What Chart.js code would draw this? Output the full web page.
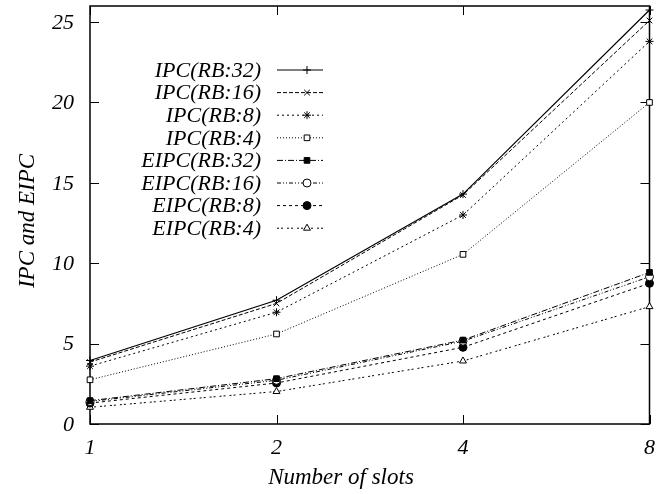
<!DOCTYPE html>
<html>
<head>
<meta charset="utf-8">
<script src="https://cdn.jsdelivr.net/npm/chart.js@4.4.1/dist/chart.umd.min.js"></script>
<style>
	html, body { margin: 0; padding: 0; background: #fff; }
	#wrap { width: 666px; height: 494px; }
</style>
</head>
<body>
<div id="wrap"><canvas id="c" width="666" height="494"></canvas></div>
<script>
// number of slots (log2 spaced, drawn as evenly spaced categories)
const slots = ["1", "2", "4", "8"];
const yTicks = [0, 5, 10, 15, 20, 25];

const ipc_rb32 = [3.95, 7.7, 14.3, 25.75];
const ipc_rb16 = [3.85, 7.5, 14.25, 25.1];
const ipc_rb8 = [3.6, 6.95, 13.0, 23.8];
const ipc_rb4 = [2.75, 5.6, 10.55, 20.0];
const eipc_rb32 = [1.45, 2.82, 5.22, 9.43];
const eipc_rb16 = [1.4, 2.72, 5.15, 9.16];
const eipc_rb8 = [1.3, 2.55, 4.77, 8.75];
const eipc_rb4 = [1.04, 2.02, 3.92, 7.3];

const FONT = "'Liberation Serif', 'DejaVu Serif', serif";
const LABEL_FONT = "italic 22px " + FONT;
const TITLE_FONT = "italic 23px " + FONT;

function series(label, data, dash, pointStyle, filled, width) {
	return {
		label: label,
		data: data,
		borderColor: "#000",
		borderWidth: width || 1,
		borderDash: dash,
		pointStyle: pointStyle,
		pointRadius: 4,
		pointBorderWidth: 1,
		pointBorderColor: "#000",
		pointBackgroundColor: filled ? "#000" : "#fff",
		backgroundColor: filled ? "#000" : "#fff",
		fill: false,
		tension: 0,
	};
}

// legend: text right-aligned, line sample with marker to its right (gnuplot style)
const keyPlugin = {
	id: "key",
	afterDatasetsDraw(chart) {
		const ctx = chart.ctx;
		const textRight = 261, x0 = 277, x1 = 323, top = 70, step = 22.6;
		ctx.save();
		ctx.font = LABEL_FONT;
		ctx.textAlign = "right";
		ctx.textBaseline = "middle";
		chart.data.datasets.forEach((ds, i) => {
			const y = top + i * step;
			ctx.fillStyle = "#000";
			ctx.fillText(ds.label, textRight, y + 1);
			ctx.strokeStyle = "#000";
			ctx.lineWidth = ds.borderWidth;
			ctx.setLineDash(ds.borderDash || []);
			ctx.beginPath();
			ctx.moveTo(x0, y);
			ctx.lineTo(x1, y);
			ctx.stroke();
			ctx.setLineDash([]);
			ctx.lineWidth = 1;
			ctx.fillStyle = ds.pointBackgroundColor;
			Chart.helpers.drawPoint(ctx, {
				pointStyle: ds.pointStyle,
				radius: 4,
				borderWidth: 1,
				rotation: 0,
			}, 307, y);
		});
		ctx.restore();
	},
};

// frame with inward ticks on all four sides, y tick labels and axis titles
const framePlugin = {
	id: "frame",
	beforeDatasetsDraw(chart) {
		const ctx = chart.ctx;
		const a = chart.chartArea;
		const xs = chart.scales.x, ys = chart.scales.y;
		ctx.save();
		ctx.strokeStyle = "#000";
		ctx.lineWidth = 1.5;
		ctx.strokeRect(a.left, a.top, a.right - a.left, a.bottom - a.top);
		ctx.lineWidth = 1;
		ctx.beginPath();
		yTicks.forEach((v) => {
			const y = Math.round(ys.getPixelForValue(v)) + 0.5;
			ctx.moveTo(a.left, y); ctx.lineTo(a.left + 9, y);
			ctx.moveTo(a.right, y); ctx.lineTo(a.right - 9, y);
		});
		slots.forEach((s, i) => {
			const x = Math.round(xs.getPixelForValue(i)) + 0.5;
			ctx.moveTo(x, a.bottom); ctx.lineTo(x, a.bottom - 9);
			ctx.moveTo(x, a.top); ctx.lineTo(x, a.top + 9);
		});
		ctx.stroke();

		ctx.fillStyle = "#000";
		ctx.font = LABEL_FONT;
		ctx.textAlign = "right";
		ctx.textBaseline = "middle";
		yTicks.forEach((v) => {
			ctx.fillText(String(v), a.left - 16, ys.getPixelForValue(v) + 1);
		});
		ctx.font = TITLE_FONT;
		ctx.textAlign = "center";
		ctx.fillText("Number of slots", 341, 478);
		ctx.translate(28, 221);
		ctx.rotate(-Math.PI / 2);
		ctx.fillText("IPC and EIPC", 0, 0);
		ctx.restore();
	},
};

new Chart(document.getElementById("c"), {
	type: "line",
	data: {
		labels: slots,
		datasets: [
			series("IPC(RB:32)", ipc_rb32, [], "cross", false, 1.2),
			series("IPC(RB:16)", ipc_rb16, [4, 2], "crossRot", false),
			series("IPC(RB:8)", ipc_rb8, [2, 3], "star", false),
			series("IPC(RB:4)", ipc_rb4, [1, 2], "rect", false),
			series("EIPC(RB:32)", eipc_rb32, [6, 2, 1, 2], "rect", true),
			series("EIPC(RB:16)", eipc_rb16, [4, 2, 1, 2, 1, 2], "circle", false),
			series("EIPC(RB:8)", eipc_rb8, [3, 3], "circle", true),
			series("EIPC(RB:4)", eipc_rb4, [2, 2, 2, 4], "triangle", false),
		],
	},
	options: {
		responsive: false,
		animation: false,
		layout: { padding: { top: 6, right: 14, left: 0, bottom: 0 } },
		plugins: {
			legend: { display: false },
			tooltip: { enabled: false },
		},
		scales: {
			x: {
				type: "category",
				offset: false,
				border: { display: false },
				grid: { display: false, drawTicks: false },
				ticks: { color: "#000", font: { family: FONT, size: 22, style: "italic" }, padding: 11, maxRotation: 0 },
				afterFit: (s) => { s.height = 70; },
			},
			y: {
				min: 0,
				max: 26,
				border: { display: false },
				grid: { display: false, drawTicks: false },
				ticks: { display: false },
				afterBuildTicks: (s) => { s.ticks = yTicks.map((v) => ({ value: v })); },
				afterFit: (s) => { s.width = 90; },
			},
		},
	},
	plugins: [framePlugin, keyPlugin],
});
</script>
</body>
</html>
